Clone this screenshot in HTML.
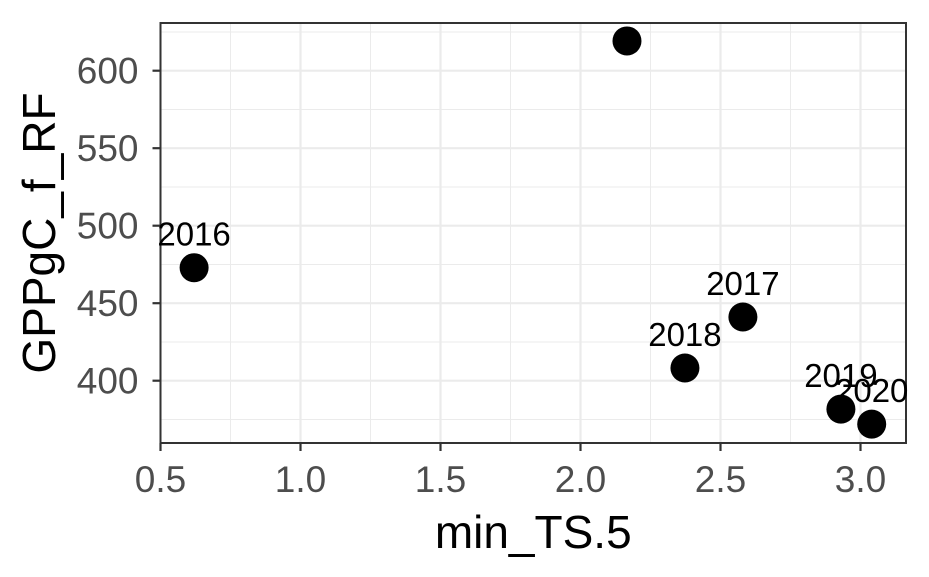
<!DOCTYPE html>
<html><head><meta charset="utf-8"><style>
html,body{margin:0;padding:0;background:#fff}
svg{display:block;font-family:"Liberation Sans",Arial,sans-serif}
</style></head><body>
<svg id="chart" width="929" height="577"></svg>
<script>
const years = ["", "2016", "2017", "2018", "2019", "2020"];
const xValues = [2.166, 0.62, 2.58, 2.373, 2.93, 3.04];
const yValues = [619.2, 472.9, 441.1, 408.2, 381.7, 372.0];
const xTicks = [0.5, 1.0, 1.5, 2.0, 2.5, 3.0];
const xTickLabels = ["0.5", "1.0", "1.5", "2.0", "2.5", "3.0"];
const yTicks = [400, 450, 500, 550, 600];
const yTickLabels = ["400", "450", "500", "550", "600"];

const L = 160.5, R = 906, T = 23, B = 443;
const xs = v => 160.5 + (v - 0.5) * 280;
const ys = v => 380.7 - (v - 400) * 1.55;
const NS = "http://www.w3.org/2000/svg";
const svg = document.getElementById("chart");
function mk(tag, attrs, parent) {
  const e = document.createElementNS(NS, tag);
  for (const k in attrs) e.setAttribute(k, attrs[k]);
  (parent || svg).appendChild(e);
  return e;
}
const grid = mk("g", {});


for (let i = 0; i < xTicks.length - 1; i++) {
  const x = xs((xTicks[i] + xTicks[i + 1]) / 2);
  mk("line", {x1: x, x2: x, y1: T, y2: B, stroke: "#ebebeb", "stroke-width": 1}, grid);
}
{ const x = xs(xTicks[xTicks.length - 1] + 0.25); if (x < R) mk("line", {x1: x, x2: x, y1: T, y2: B, stroke: "#ebebeb", "stroke-width": 1}, grid); }
const yMinor = [375, 425, 475, 525, 575, 625];
for (const v of yMinor) {
  const y = ys(v);
  if (y > T && y < B) mk("line", {x1: L, x2: R, y1: y, y2: y, stroke: "#ebebeb", "stroke-width": 1}, grid);
}
for (const v of xTicks) { const x = xs(v); mk("line", {x1: x, x2: x, y1: T, y2: B, stroke: "#ebebeb", "stroke-width": 2.2}, grid); }
for (const v of yTicks) { const y = ys(v); mk("line", {x1: L, x2: R, y1: y, y2: y, stroke: "#ebebeb", "stroke-width": 2.2}, grid); }
const border = mk("rect", {x: L, y: T, width: R - L, height: B - T, fill: "none", stroke: "#333", "stroke-width": 2});


xTicks.forEach((v, i) => {
  const x = xs(v);
  mk("line", {x1: x, x2: x, y1: B, y2: B + 8, stroke: "#333", "stroke-width": 2.2});
  const t = mk("text", {x: x, y: 492, "text-anchor": "middle", "font-size": 37, fill: "#4d4d4d"});
  t.textContent = xTickLabels[i];
  
  
});
yTicks.forEach((v, i) => {
  const y = ys(v);
  mk("line", {x1: L - 8, x2: L, y1: y, y2: y, stroke: "#333", "stroke-width": 2.2});
  const t = mk("text", {x: L - 22, y: y + 13, "text-anchor": "end", "font-size": 37, fill: "#4d4d4d"});
  t.textContent = yTickLabels[i];
  
  
});
xValues.forEach((xv, i) => {
  const cx = xs(xv), cy = ys(yValues[i]);
  const c = mk("circle", {cx: cx, cy: cy, r: 14.5, fill: "#000"});
  
  
  if (years[i]) {
    const t = mk("text", {x: cx, y: cy - 22, "text-anchor": "middle", "font-size": 33, fill: "#000"});
    t.textContent = years[i];
    
    
  }
});
const xt = mk("text", {x: (L + R) / 2, y: 548, "text-anchor": "middle", "font-size": 46, fill: "#000"});
xt.textContent = "min_TS.5";


const yt = mk("text", {x: 0, y: 0, "text-anchor": "middle", "font-size": 46, fill: "#000", transform: "translate(55," + ((T + B) / 2) + ") rotate(-90)"});
yt.textContent = "GPPgC_f_RF";


</script>
</body></html>
